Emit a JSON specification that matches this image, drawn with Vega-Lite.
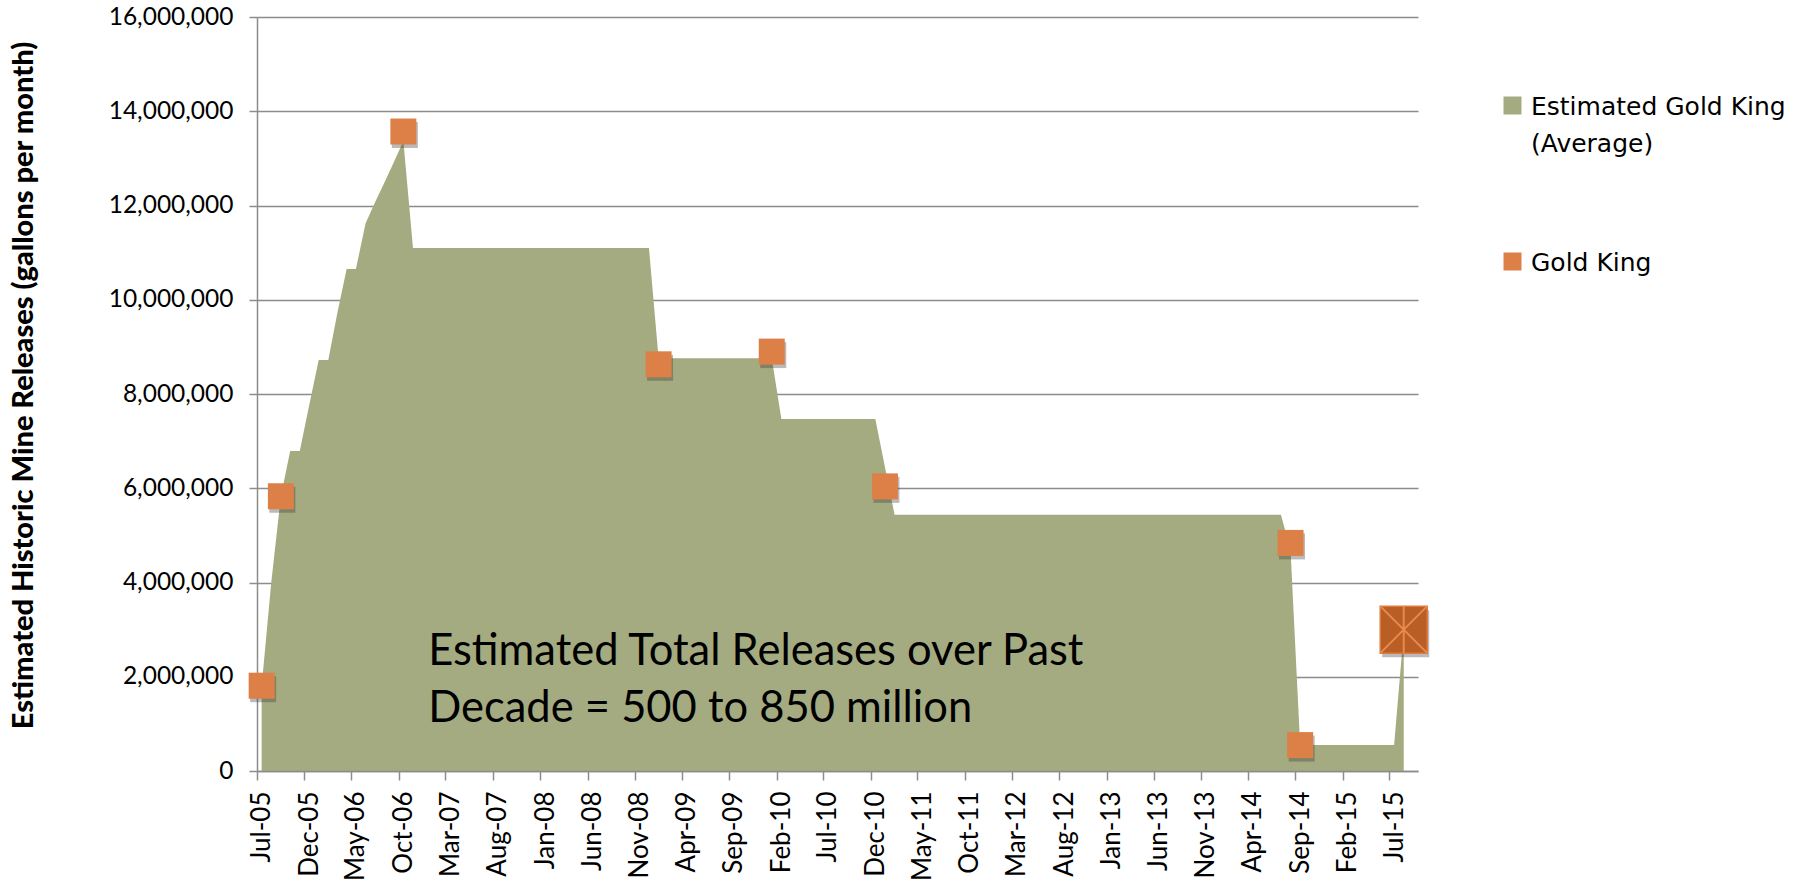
{
  "$schema": "https://vega.github.io/schema/vega-lite/v6.json",
  "autosize": "none",
  "width": 1161,
  "height": 754,
  "padding": {"left": 257, "top": 17, "right": 386, "bottom": 122},
  "background": "white",
  "config": {
    "view": {"stroke": null},
    "font": "Lato",
    "style": {"guide-label": {"lineHeight": 37, "dy": 9}}
  },
  "datasets": {
    "releases": [
      {"month": "2005-07-01", "gallons": 1800000},
      {"month": "2005-08-01", "gallons": 4000000},
      {"month": "2005-09-01", "gallons": 5830000},
      {"month": "2005-10-01", "gallons": 6790000},
      {"month": "2005-11-01", "gallons": 6790000},
      {"month": "2005-12-01", "gallons": 7750000},
      {"month": "2006-01-01", "gallons": 8720000},
      {"month": "2006-02-01", "gallons": 8720000},
      {"month": "2006-03-01", "gallons": 9680000},
      {"month": "2006-04-01", "gallons": 10650000},
      {"month": "2006-05-01", "gallons": 10650000},
      {"month": "2006-06-01", "gallons": 11620000},
      {"month": "2006-07-01", "gallons": 12060000},
      {"month": "2006-08-01", "gallons": 12490000},
      {"month": "2006-09-01", "gallons": 12930000},
      {"month": "2006-10-01", "gallons": 13370000},
      {"month": "2006-11-01", "gallons": 11100000},
      {"month": "2006-12-01", "gallons": 11100000},
      {"month": "2007-01-01", "gallons": 11100000},
      {"month": "2007-02-01", "gallons": 11100000},
      {"month": "2007-03-01", "gallons": 11100000},
      {"month": "2007-04-01", "gallons": 11100000},
      {"month": "2007-05-01", "gallons": 11100000},
      {"month": "2007-06-01", "gallons": 11100000},
      {"month": "2007-07-01", "gallons": 11100000},
      {"month": "2007-08-01", "gallons": 11100000},
      {"month": "2007-09-01", "gallons": 11100000},
      {"month": "2007-10-01", "gallons": 11100000},
      {"month": "2007-11-01", "gallons": 11100000},
      {"month": "2007-12-01", "gallons": 11100000},
      {"month": "2008-01-01", "gallons": 11100000},
      {"month": "2008-02-01", "gallons": 11100000},
      {"month": "2008-03-01", "gallons": 11100000},
      {"month": "2008-04-01", "gallons": 11100000},
      {"month": "2008-05-01", "gallons": 11100000},
      {"month": "2008-06-01", "gallons": 11100000},
      {"month": "2008-07-01", "gallons": 11100000},
      {"month": "2008-08-01", "gallons": 11100000},
      {"month": "2008-09-01", "gallons": 11100000},
      {"month": "2008-10-01", "gallons": 11100000},
      {"month": "2008-11-01", "gallons": 11100000},
      {"month": "2008-12-01", "gallons": 11100000},
      {"month": "2009-01-01", "gallons": 8760000},
      {"month": "2009-02-01", "gallons": 8760000},
      {"month": "2009-03-01", "gallons": 8760000},
      {"month": "2009-04-01", "gallons": 8760000},
      {"month": "2009-05-01", "gallons": 8760000},
      {"month": "2009-06-01", "gallons": 8760000},
      {"month": "2009-07-01", "gallons": 8760000},
      {"month": "2009-08-01", "gallons": 8760000},
      {"month": "2009-09-01", "gallons": 8760000},
      {"month": "2009-10-01", "gallons": 8760000},
      {"month": "2009-11-01", "gallons": 8760000},
      {"month": "2009-12-01", "gallons": 8760000},
      {"month": "2010-01-01", "gallons": 8760000},
      {"month": "2010-02-01", "gallons": 7470000},
      {"month": "2010-03-01", "gallons": 7470000},
      {"month": "2010-04-01", "gallons": 7470000},
      {"month": "2010-05-01", "gallons": 7470000},
      {"month": "2010-06-01", "gallons": 7470000},
      {"month": "2010-07-01", "gallons": 7470000},
      {"month": "2010-08-01", "gallons": 7470000},
      {"month": "2010-09-01", "gallons": 7470000},
      {"month": "2010-10-01", "gallons": 7470000},
      {"month": "2010-11-01", "gallons": 7470000},
      {"month": "2010-12-01", "gallons": 7470000},
      {"month": "2011-01-01", "gallons": 6450000},
      {"month": "2011-02-01", "gallons": 5440000},
      {"month": "2011-03-01", "gallons": 5440000},
      {"month": "2011-04-01", "gallons": 5440000},
      {"month": "2011-05-01", "gallons": 5440000},
      {"month": "2011-06-01", "gallons": 5440000},
      {"month": "2011-07-01", "gallons": 5440000},
      {"month": "2011-08-01", "gallons": 5440000},
      {"month": "2011-09-01", "gallons": 5440000},
      {"month": "2011-10-01", "gallons": 5440000},
      {"month": "2011-11-01", "gallons": 5440000},
      {"month": "2011-12-01", "gallons": 5440000},
      {"month": "2012-01-01", "gallons": 5440000},
      {"month": "2012-02-01", "gallons": 5440000},
      {"month": "2012-03-01", "gallons": 5440000},
      {"month": "2012-04-01", "gallons": 5440000},
      {"month": "2012-05-01", "gallons": 5440000},
      {"month": "2012-06-01", "gallons": 5440000},
      {"month": "2012-07-01", "gallons": 5440000},
      {"month": "2012-08-01", "gallons": 5440000},
      {"month": "2012-09-01", "gallons": 5440000},
      {"month": "2012-10-01", "gallons": 5440000},
      {"month": "2012-11-01", "gallons": 5440000},
      {"month": "2012-12-01", "gallons": 5440000},
      {"month": "2013-01-01", "gallons": 5440000},
      {"month": "2013-02-01", "gallons": 5440000},
      {"month": "2013-03-01", "gallons": 5440000},
      {"month": "2013-04-01", "gallons": 5440000},
      {"month": "2013-05-01", "gallons": 5440000},
      {"month": "2013-06-01", "gallons": 5440000},
      {"month": "2013-07-01", "gallons": 5440000},
      {"month": "2013-08-01", "gallons": 5440000},
      {"month": "2013-09-01", "gallons": 5440000},
      {"month": "2013-10-01", "gallons": 5440000},
      {"month": "2013-11-01", "gallons": 5440000},
      {"month": "2013-12-01", "gallons": 5440000},
      {"month": "2014-01-01", "gallons": 5440000},
      {"month": "2014-02-01", "gallons": 5440000},
      {"month": "2014-03-01", "gallons": 5440000},
      {"month": "2014-04-01", "gallons": 5440000},
      {"month": "2014-05-01", "gallons": 5440000},
      {"month": "2014-06-01", "gallons": 5440000},
      {"month": "2014-07-01", "gallons": 5440000},
      {"month": "2014-08-01", "gallons": 4680000},
      {"month": "2014-09-01", "gallons": 550000},
      {"month": "2014-10-01", "gallons": 550000},
      {"month": "2014-11-01", "gallons": 550000},
      {"month": "2014-12-01", "gallons": 550000},
      {"month": "2015-01-01", "gallons": 550000},
      {"month": "2015-02-01", "gallons": 550000},
      {"month": "2015-03-01", "gallons": 550000},
      {"month": "2015-04-01", "gallons": 550000},
      {"month": "2015-05-01", "gallons": 550000},
      {"month": "2015-06-01", "gallons": 550000},
      {"month": "2015-07-01", "gallons": 550000},
      {"month": "2015-08-01", "gallons": 2950000}
    ],
    "gold_king": [
      {"month": "2005-07-01", "gallons": 1810000, "kind": "measured"},
      {"month": "2005-09-01", "gallons": 5830000, "kind": "measured"},
      {"month": "2006-10-01", "gallons": 13570000, "kind": "measured"},
      {"month": "2009-01-01", "gallons": 8630000, "kind": "measured"},
      {"month": "2010-01-01", "gallons": 8900000, "kind": "measured"},
      {"month": "2011-01-01", "gallons": 6040000, "kind": "measured"},
      {"month": "2014-08-01", "gallons": 4840000, "kind": "measured"},
      {"month": "2014-09-01", "gallons": 550000, "kind": "measured"},
      {"month": "2015-08-01", "gallons": 3000000, "kind": "spill"}
    ],
    "notes": [
      {"month": "2006-12-20", "gallons": 2240000, "note": "Estimated Total Releases over Past\nDecade = 500 to 850 million"}
    ]
  },
  "encoding": {
    "x": {
      "field": "month",
      "type": "temporal",
      "scale": {
        "type": "utc",
        "domain": [
          {"year": 2005, "month": 6, "date": 16, "utc": true},
          {"year": 2015, "month": 9, "date": 16, "utc": true}
        ]
      },
      "axis": {
        "title": null,
        "format": "%b-%y",
        "values": [
          {"year": 2005, "month": 7, "date": 1, "utc": true},
          {"year": 2005, "month": 12, "date": 1, "utc": true},
          {"year": 2006, "month": 5, "date": 1, "utc": true},
          {"year": 2006, "month": 10, "date": 1, "utc": true},
          {"year": 2007, "month": 3, "date": 1, "utc": true},
          {"year": 2007, "month": 8, "date": 1, "utc": true},
          {"year": 2008, "month": 1, "date": 1, "utc": true},
          {"year": 2008, "month": 6, "date": 1, "utc": true},
          {"year": 2008, "month": 11, "date": 1, "utc": true},
          {"year": 2009, "month": 4, "date": 1, "utc": true},
          {"year": 2009, "month": 9, "date": 1, "utc": true},
          {"year": 2010, "month": 2, "date": 1, "utc": true},
          {"year": 2010, "month": 7, "date": 1, "utc": true},
          {"year": 2010, "month": 12, "date": 1, "utc": true},
          {"year": 2011, "month": 5, "date": 1, "utc": true},
          {"year": 2011, "month": 10, "date": 1, "utc": true},
          {"year": 2012, "month": 3, "date": 1, "utc": true},
          {"year": 2012, "month": 8, "date": 1, "utc": true},
          {"year": 2013, "month": 1, "date": 1, "utc": true},
          {"year": 2013, "month": 6, "date": 1, "utc": true},
          {"year": 2013, "month": 11, "date": 1, "utc": true},
          {"year": 2014, "month": 4, "date": 1, "utc": true},
          {"year": 2014, "month": 9, "date": 1, "utc": true},
          {"year": 2015, "month": 2, "date": 1, "utc": true},
          {"year": 2015, "month": 7, "date": 1, "utc": true}
        ],
        "labelAngle": 270,
        "labelFont": "Lato",
        "labelFontSize": 26,
        "labelColor": "#000000",
        "labelPadding": 11,
        "labelFlush": false,
        "labelOverlap": false,
        "labelBound": false,
        "tickSize": 9,
        "tickOffset": -4.7,
        "labelOffset": -4.3,
        "tickColor": "#8c8c8c",
        "tickWidth": 1.5,
        "domainColor": "#8c8c8c",
        "domainWidth": 1.5,
        "grid": false,
        "zindex": 1
      }
    },
    "y": {
      "field": "gallons",
      "type": "quantitative",
      "stack": null,
      "scale": {"domain": [0, 16000000], "nice": false},
      "axis": {
        "title": "Estimated Historic Mine Releases (gallons per month)",
        "titleFont": "Lato",
        "titleFontSize": 29,
        "titleFontWeight": 900,
        "titleColor": "#000000",
        "titleAngle": 270,
        "titleAlign": "center",
        "titleBaseline": "middle",
        "titleX": -234,
        "titleY": 368,
        "values": [0, 2000000, 4000000, 6000000, 8000000, 10000000, 12000000, 14000000, 16000000],
        "format": ",d",
        "labelFont": "Lato",
        "labelFontSize": 24.5,
        "labelColor": "#000000",
        "labelPadding": 16,
        "labelOffset": -9,
        "labelFlush": false,
        "labelOverlap": false,
        "tickSize": 8,
        "tickColor": "#8c8c8c",
        "tickWidth": 1.5,
        "domainColor": "#8c8c8c",
        "domainWidth": 1.5,
        "grid": true,
        "gridColor": "#8c8c8c",
        "gridWidth": 1.5
      }
    }
  },
  "layer": [
    {
      "data": {"name": "releases"},
      "mark": {"type": "area", "interpolate": "linear", "opacity": 1},
      "encoding": {
        "color": {
          "datum": "Estimated Gold King (Average)",
          "scale": {
            "domain": ["Estimated Gold King (Average)", "Gold King"],
            "range": ["#a4ab80", "#dd8047"]
          },
          "legend": {
            "title": null,
            "orient": "none",
            "legendX": 1243,
            "legendY": 76,
            "direction": "vertical",
            "padding": 0,
            "symbolType": "square",
            "symbolSize": 324,
            "symbolStrokeWidth": 0,
            "labelFont": "DejaVu Sans",
            "labelFontSize": 25,
            "labelColor": "#000000",
            "labelLimit": 0,
            "labelOffset": 6,
            "labelBaseline": "alphabetic",
            "rowPadding": 92,
            "labelExpr": "datum.label === 'Estimated Gold King (Average)' ? ['Estimated Gold King', '(Average)'] : datum.label"
          }
        }
      }
    },
    {
      "data": {"name": "gold_king"},
      "transform": [{"filter": "datum.kind === 'measured'"}],
      "mark": {"type": "square", "size": 676, "color": "#3a3a3a", "opacity": 0.35, "xOffset": 1.5, "yOffset": 3.5}
    },
    {
      "data": {"name": "gold_king"},
      "transform": [{"filter": "datum.kind === 'measured'"}],
      "mark": {"type": "square", "size": 676, "color": "#dd8047", "opacity": 1}
    },
    {
      "data": {"name": "gold_king"},
      "transform": [{"filter": "datum.kind === 'spill'"}],
      "mark": {"type": "square", "size": 2209, "color": "#3a3a3a", "opacity": 0.35, "xOffset": 2, "yOffset": 4}
    },
    {
      "data": {"name": "gold_king"},
      "transform": [{"filter": "datum.kind === 'spill'"}],
      "mark": {"type": "square", "size": 2209, "color": "#b95e25", "stroke": "#e07b3f", "strokeWidth": 1.5, "opacity": 1}
    },
    {
      "data": {"name": "gold_king"},
      "transform": [{"filter": "datum.kind === 'spill'"}],
      "mark": {"type": "point", "shape": "M-1,-1L1,1M1,-1L-1,1M0,-1L0,1", "size": 2209, "filled": false, "stroke": "#e68a50", "strokeWidth": 2, "opacity": 1}
    },
    {
      "data": {"name": "notes"},
      "mark": {"type": "text", "align": "left", "baseline": "alphabetic", "font": "Lato", "fontSize": 43.5, "lineBreak": "\n", "lineHeight": 57, "color": "#000000"},
      "encoding": {"text": {"field": "note", "type": "nominal"}}
    }
  ]
}
